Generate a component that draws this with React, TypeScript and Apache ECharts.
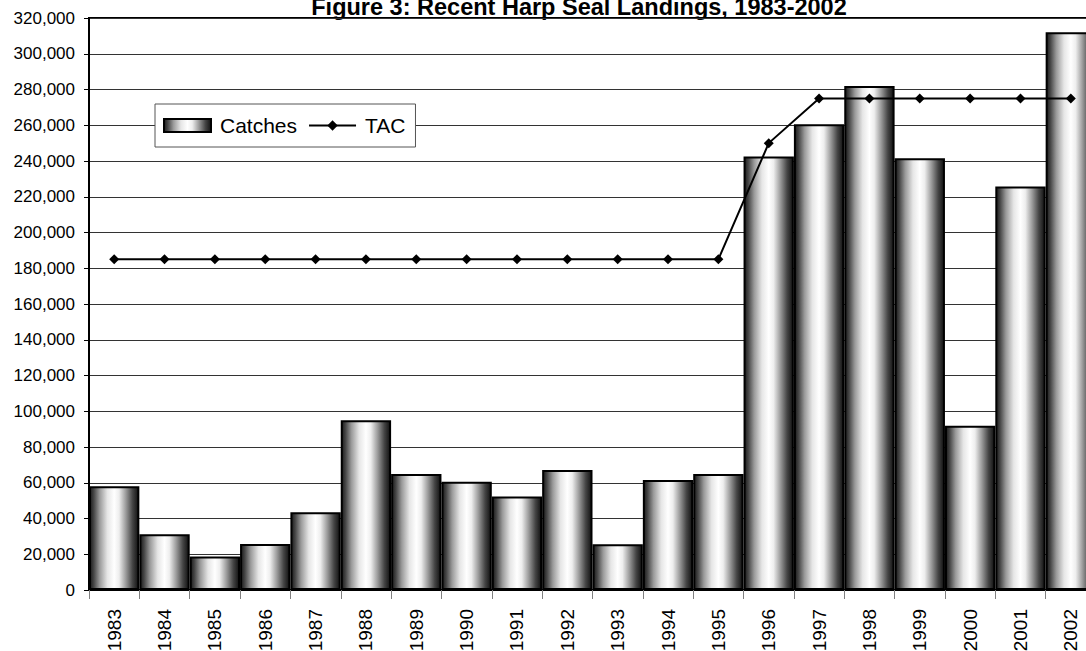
import React, { useEffect, useRef } from "react";
import * as echarts from "echarts";

const years = ["1983","1984","1985","1986","1987","1988","1989","1990","1991","1992","1993","1994","1995","1996","1997","1998","1999","2000","2001","2002"];
const catches = [58000, 31200, 18800, 25700, 43500, 95000, 64900, 60500, 52300, 67100, 25600, 61500, 64900, 242500, 260600, 282000, 241500, 91900, 225700, 312000];
const tac = [185000, 185000, 185000, 185000, 185000, 185000, 185000, 185000, 185000, 185000, 185000, 185000, 185000, 250000, 275000, 275000, 275000, 275000, 275000, 275000];
const titleText = "Figure 3: Recent Harp Seal Landings, 1983-2002";

const FONT = '"Liberation Sans", Arial, sans-serif';

export default function App() {
  const ref = useRef<HTMLDivElement>(null);
  useEffect(() => {
    if (!ref.current) return;
    const chart = echarts.init(ref.current, undefined, { renderer: "svg" });
    const barGrad = {
      type: "linear", x: 0, y: 0, x2: 1, y2: 0,
      colorStops: [
        { offset: 0, color: "#1a1a1a" },
        { offset: 0.08, color: "#474747" },
        { offset: 0.2, color: "#9a9a9a" },
        { offset: 0.36, color: "#e6e6e6" },
        { offset: 0.5, color: "#ffffff" },
        { offset: 0.6, color: "#eeeeee" },
        { offset: 0.74, color: "#9c9c9c" },
        { offset: 0.88, color: "#454545" },
        { offset: 1, color: "#111111" },
      ],
    };
    chart.setOption({
      animation: false,
      backgroundColor: "#ffffff",
      textStyle: { fontFamily: FONT },
      graphic: [
        {
          type: "text",
          x: 579,
          y: 7,
          style: {
            text: titleText,
            font: 'bold 23.5px "Liberation Sans", Arial, sans-serif',
            fill: "#000",
            align: "center",
            verticalAlign: "middle",
          },
        },
      ],
      grid: {
        left: 89,
        top: 18,
        width: 1007,
        height: 572,
        outerBoundsMode: "none",
        containLabel: false,
        show: true,
        borderColor: "#000",
        borderWidth: 2,
        backgroundColor: "transparent",
      },
      legend: {
        left: 155,
        top: 104,
        orient: "horizontal",
        padding: [11, 10, 11, 8],
        itemWidth: 47,
        itemHeight: 13,
        itemGap: 11,
        backgroundColor: "#fff",
        borderColor: "#555",
        borderWidth: 1,
        textStyle: { fontSize: 21, color: "#000", fontFamily: FONT, padding: [0, 0, 0, 4] },
        data: [{ name: "Catches", icon: "rect" }, { name: "TAC" }],
      },
      xAxis: {
        type: "category",
        data: years,
        boundaryGap: true,
        axisLine: { lineStyle: { color: "#000", width: 2 } },
        axisTick: { show: true, length: 9, lineStyle: { color: "#808080", width: 1 } },
        axisLabel: { rotate: 90, fontSize: 19, color: "#000", margin: 19, fontFamily: FONT },
        splitLine: { show: false },
      },
      yAxis: {
        type: "value",
        min: 0,
        max: 320000,
        interval: 20000,
        axisLine: { show: true, lineStyle: { color: "#000", width: 2 } },
        axisTick: { show: true, length: 5, lineStyle: { color: "#000" } },
        axisLabel: {
          fontSize: 17,
          color: "#000",
          margin: 14,
          fontFamily: FONT,
          formatter: (v: number) => v.toLocaleString("en-US"),
        },
        splitLine: { show: true, lineStyle: { color: "#333", width: 1 } },
      },
      series: [
        {
          name: "Catches",
          type: "bar",
          data: catches,
          barCategoryGap: "0%",
          itemStyle: { color: barGrad, borderColor: "#000", borderWidth: 2 },
          z: 2,
        },
        {
          name: "TAC",
          type: "line",
          data: tac,
          symbol: "diamond",
          symbolSize: 10,
          itemStyle: { color: "#000" },
          lineStyle: { color: "#000", width: 2 },
          z: 3,
        },
      ],
    });
    return () => chart.dispose();
  }, []);
  return (
    <div
      ref={ref}
      style={{ position: "fixed", left: 0, top: 0, width: 1086, height: 651, background: "#fff" }}
    />
  );
}
